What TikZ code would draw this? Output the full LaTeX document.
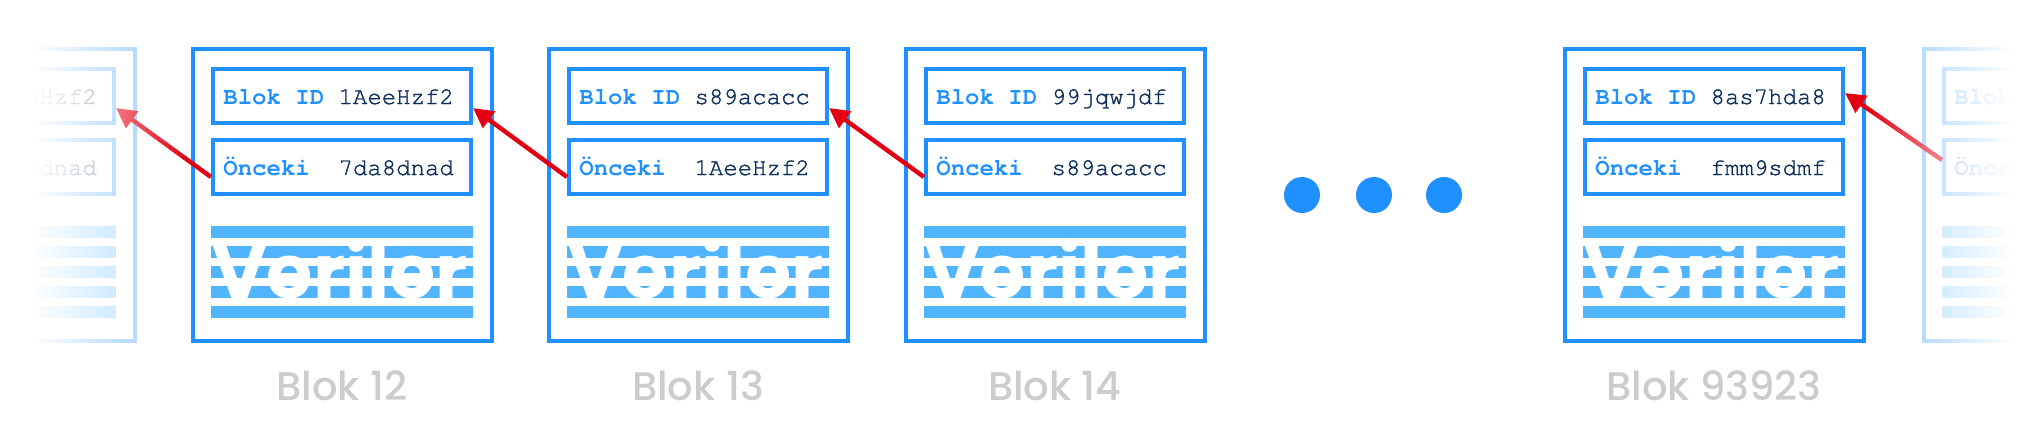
\documentclass[tikz,border=0pt]{standalone}
\usepackage{fontspec}
\usetikzlibrary{arrows.meta}
\newfontfamily\monofont{texgyrecursor}[Extension=.otf,UprightFont=*-regular,BoldFont=*-bold,
	UprightFeatures={FakeBold=1.4}]
\newfontfamily\verifont{Poppins Bold}
\newfontfamily\lblfont{Poppins Medium}
\definecolor{blokblue}{RGB}{30,144,255}
\definecolor{stripeblue}{RGB}{80,180,255}
\definecolor{hashnavy}{RGB}{12,46,90}
\definecolor{linkred}{RGB}{226,0,18}
\definecolor{capgray}{RGB}{204,204,204}
\tikzset{
    outbox/.style={draw=blokblue, line width=2pt, minimum width=149.5pt,
    	minimum height=146pt, inner sep=0pt},
    inbox/.style={draw=blokblue, line width=2pt, minimum width=129pt,
    	minimum height=27pt, inner sep=0pt},
    hashtext/.style={anchor=base west, inner sep=0pt, text=hashnavy,
    	font=\monofont\fontsize{12}{12}\selectfont},
    datatext/.style={anchor=base, inner sep=0pt, text=white,
    	font=\verifont\fontsize{37.5}{37.5}\selectfont},
    captext/.style={anchor=base, inner sep=0pt, text=capgray,
    	font=\lblfont\fontsize{20}{20}\selectfont},
    link/.style={draw=linkred, line width=2.2pt, -{Triangle[length=10pt,width=10pt]}},
    dot/.style={circle, fill=blokblue, minimum size=18pt, inner sep=0pt}
}
% #1 left edge, #2 name, #3 block id, #4 previous id
\newcommand{\blok}[4]{
  \node (b#2) [outbox] at (#1+151.5,195) {};
  \node (id#2) [inbox] at (#1+151,96) {};
  \node (prev#2) [inbox] at (#1+151,167) {};
  \node (tid#2) [hashtext] at (#1+32,104) {\textcolor{blokblue}{\bfseries Blok ID} #3};
  \node (tprev#2) [hashtext] at (#1+32,175) {\textcolor{blokblue}{\bfseries Önceki}\ \ #4};
  \foreach \k in {0,...,4}
    \fill[stripeblue] (#1+20,226+20*\k) rectangle (#1+282,237.5+20*\k);
}

\begin{document}
\begin{tikzpicture}[x=0.5pt, y=-0.5pt]
  \useasboundingbox (0,0) rectangle (2034,430);
  \clip (0,0) rectangle (2034,430);

  % faded blocks at both ends
  \begin{scope}[opacity=.5]
    \blok{-166}{11}{1AeeHzf2}{7da8dnad}
    \blok{1922}{r}{}{}
  \end{scope}

  \foreach \x/\n/\id/\prev in {191/12/1AeeHzf2/7da8dnad, 547/13/s89acacc/1AeeHzf2,
      904/14/99jqwjdf/s89acacc, 1563/93923/8as7hda8/fmm9sdmf}{
    \blok{\x}{\n}{\id}{\prev}
    \node (data\n) [datatext] at (\x+149,298.5) {Veriler};
    \node (cap\n) [captext] at (\x+151,400) {Blok \n};
  }

  \node (dot1) [dot] at (1302,195) {};
  \node (dot2) [dot] at (1374,195) {};
  \node (dot3) [dot] at (1444,195) {};

  \draw[link] ([yshift=-5pt]prev12.west) -- ([yshift=-6pt]id11.east);
  \draw[link] ([yshift=-5pt]prev13.west) -- ([yshift=-6pt]id12.east);
  \draw[link] ([yshift=-5pt]prev14.west) -- ([yshift=-6pt]id13.east);
  \draw[link] ([yshift=3.5pt]prevr.west) -- ([yshift=1.5pt]id93923.east);

  % white fade over the ends
  \fill[white] (0,0) rectangle (30,430);
  \foreach \i [evaluate=\i as \op using 1-\i/39] in {0,...,38}
    \fill[white, opacity=\op] (30+4*\i,0) rectangle (34+4*\i,430);
  \foreach \i [evaluate=\i as \op using (\i+1)/36] in {0,...,35}
    \fill[white, opacity=\op] (1870+4*\i,0) rectangle (1874+4*\i,430);
  \fill[white] (2014,0) rectangle (2034,430);
\end{tikzpicture}
\end{document}
